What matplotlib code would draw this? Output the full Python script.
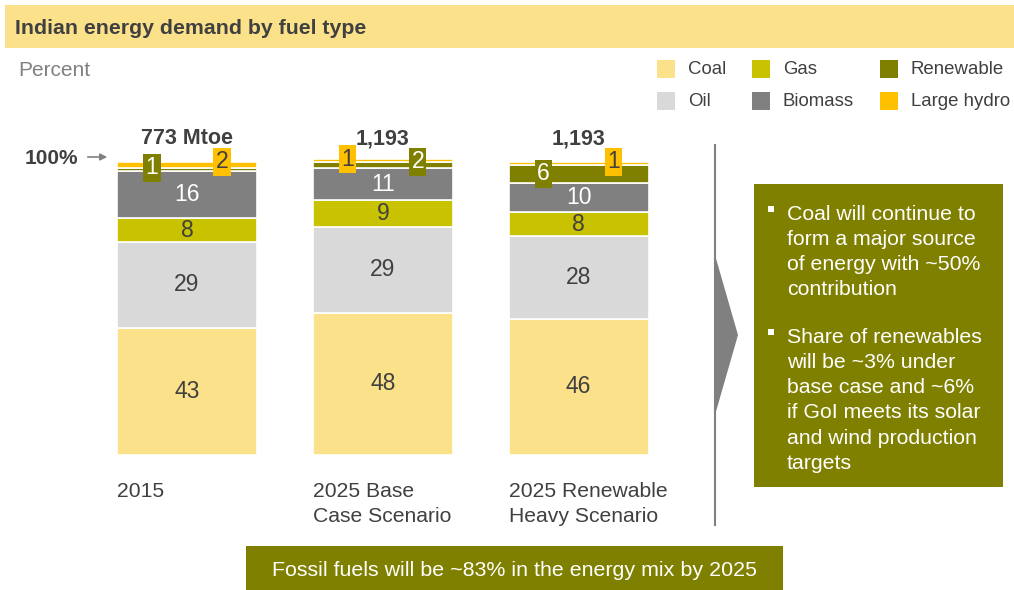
import matplotlib.pyplot as plt
from matplotlib.patches import Rectangle, Polygon
import numpy as np

plt.rcParams['font.family'] = ['Liberation Sans', 'DejaVu Sans']

W, H = 1014, 590

scenarios = ['2015', '2025 Base\nCase Scenario', '2025 Renewable\nHeavy Scenario']
totals = ['773 Mtoe', '1,193', '1,193']
fuels = ['Coal', 'Oil', 'Gas', 'Biomass', 'Renewable', 'Large hydro']
coal = [43, 48, 46]
oil = [29, 29, 28]
gas = [8, 9, 8]
biomass = [16, 11, 10]
renewable = [1, 2, 6]
large_hydro = [2, 1, 1]

colors = {
    'Coal': '#FBE18A',
    'Oil': '#D9D9D9',
    'Gas': '#C9C200',
    'Biomass': '#808080',
    'Renewable': '#808000',
    'Large hydro': '#FFC000',
}
dark = '#404040'
olive = '#808000'

fig = plt.figure(figsize=(W / 100, H / 100), dpi=100)

# background layer in pixel coordinates
bg = fig.add_axes([0, 0, 1, 1])
bg.set_xlim(0, W)
bg.set_ylim(H, 0)
bg.axis('off')

bg.add_patch(Rectangle((5, 5), W - 5, 43, color='#FBE18A', lw=0))
bg.text(15, 28, 'Indian energy demand by fuel type', fontsize=15.3,
        fontweight='bold', color=dark, va='center')
bg.text(18, 70, 'Percent', fontsize=15, color='#808080', va='center')

# legend
legend_pos = [(657, 69), (657, 101), (752, 69), (752, 101), (880, 69), (880, 101)]
legend_order = ['Coal', 'Oil', 'Gas', 'Biomass', 'Renewable', 'Large hydro']
for name, (lx, ly) in zip(legend_order, legend_pos):
    bg.add_patch(Rectangle((lx, ly - 9), 18, 18, color=colors[name], lw=0))
    bg.text(lx + 31, ly + 1, name, fontsize=13.4, color=dark, va='center')

# 100% marker
bg.text(25, 158, '100%', fontsize=15, fontweight='bold', color=dark, va='center')
bg.annotate('', xy=(110, 157), xytext=(85, 157),
            arrowprops=dict(arrowstyle='-|>', color='#808080', lw=1.2,
                            mutation_scale=10))

# divider with chevron
bg.plot([715, 715], [145, 525], color='#808080', lw=1.5)
bg.add_patch(Polygon([(715, 255), (738, 335), (715, 415)], closed=True,
                     color='#808080', lw=0))

# commentary box
bg.add_patch(Rectangle((754, 184), 249, 303, color=olive, lw=0))
bullets = [
    (212, 'Coal will continue to\nform a major source\nof energy with ~50%\ncontribution'),
    (335, 'Share of renewables\nwill be ~3% under\nbase case and ~6%\nif GoI meets its solar\nand wind production\ntargets'),
]
for by, txt in bullets:
    bg.add_patch(Rectangle((768, by - 6), 6, 6, color='white', lw=0))
    bg.text(787, by - 7, txt, fontsize=15.3, color='white', va='top',
            linespacing=1.41)

# bottom takeaway
bg.add_patch(Rectangle((246, 546), 537, 44, color=olive, lw=0))
bg.text(514.5, 571, 'Fossil fuels will be ~83% in the energy mix by 2025',
        fontsize=15.4, color='white', ha='center', va='center')

# stacked bars
ax = fig.add_axes([89 / W, (H - 455) / H, 587.5 / W, 296 / H])
ax.set_xlim(-0.5, 2.5)
ax.set_ylim(0, 100)
ax.axis('off')

x = np.arange(len(scenarios))
width = 0.715
series = [coal, oil, gas, biomass, renewable, large_hydro]
bottom = np.zeros(len(scenarios))
for name, vals in zip(fuels, series):
    ax.bar(x, vals, width, bottom=bottom, color=colors[name],
           edgecolor='white', linewidth=1.2)
    for i, v in enumerate(vals):
        mid = bottom[i] + v / 2
        if name in ('Coal', 'Oil', 'Gas'):
            ax.text(x[i], mid, str(v), ha='center', va='center',
                    fontsize=16.5, color=dark)
        elif name == 'Biomass':
            ax.text(x[i], mid, str(v), ha='center', va='center',
                    fontsize=16.5, color='white')
    bottom += vals

# boxed labels for the thin top segments (side: -1 left, 1 right)
box_side = {'Renewable': [-1, 1, -1], 'Large hydro': [1, -1, 1]}
cum = np.array(coal) + np.array(oil) + np.array(gas) + np.array(biomass)
for name, vals in (('Renewable', renewable), ('Large hydro', large_hydro)):
    for i, v in enumerate(vals):
        top = cum[i] + v
        y = top if v <= 2 else cum[i] + v / 2
        fc = 'white' if name == 'Renewable' else dark
        ax.text(x[i] + box_side[name][i] * 0.25 * width, y, str(v),
                ha='center', va='center', fontsize=16.5, color=fc,
                bbox=dict(boxstyle='square,pad=0.1', fc=colors[name], ec='none'),
                clip_on=False)
    cum = cum + np.array(vals)

for i, t in enumerate(totals):
    ax.text(x[i], 106.8, t, ha='center', va='center', fontsize=15.5,
            fontweight='bold', color=dark, clip_on=False)

for i, s in enumerate(scenarios):
    ax.text(x[i] - width / 2, -9.2, s, ha='left', va='top', fontsize=15.2,
            color=dark, linespacing=1.38, clip_on=False)

fig.savefig('out.png', dpi=100)
